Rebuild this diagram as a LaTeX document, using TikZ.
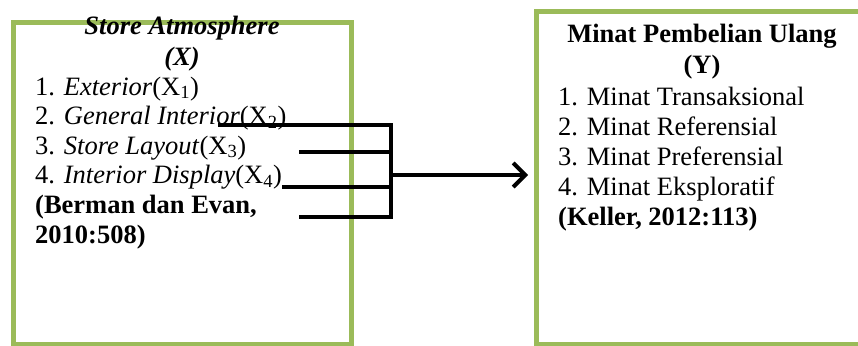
\documentclass[tikz,border=0pt]{standalone}
\usepackage{fontspec}
\setmainfont{Liberation Serif}
\usetikzlibrary{arrows.meta}
\usetikzlibrary{positioning}

\definecolor{hijau}{RGB}{155,187,89}

\begin{document}
\begin{tikzpicture}[%
x={(1pt,0pt)},
y={(0pt,-1pt)},
teks/.style={anchor=base west,inner sep=0pt,font=\fontsize{26.5}{30}\selectfont},
judul/.style={anchor=base,inner sep=0pt,font=\fontsize{26.5}{30}\selectfont\bfseries},
kotak/.style={draw=hijau,line width=5pt,rectangle,inner sep=0pt},
garis/.style={line width=4pt},
]

\useasboundingbox (0,0) rectangle (858,345);
\clip (0,0) rectangle (858,345);

%Kotak
\node[kotak,minimum width=338,minimum height=321](X) at (182.5,183.5){};
\node[kotak,minimum width=340,minimum height=332](Y) at (706,178){};

%Variabel X
\node[judul,font=\fontsize{26.5}{30}\selectfont\bfseries\itshape](Xa) at (182,35){Store Atmosphere};
\node[judul,font=\fontsize{26.5}{30}\selectfont\bfseries\itshape](Xb) at (182,66){(X)};
\node[teks](X1) at (35,95){1. \textit{Exterior}(X\textsubscript{1})};
\node[teks](X2) at (35,124.5){2. \textit{General Interior}(X\textsubscript{2})};
\node[teks](X3) at (35,154){3. \textit{Store Layout}(X\textsubscript{3})};
\node[teks](X4) at (35,183.5){4. \textit{Interior Display}(X\textsubscript{4})};
\node[teks,font=\fontsize{26.5}{30}\selectfont\bfseries](Xs1) at (35,213){(Berman dan Evan,};
\node[teks,font=\fontsize{26.5}{30}\selectfont\bfseries](Xs2) at (35,243){2010:508)};

%Variabel Y
\node[judul](Ya) at (702,43){Minat Pembelian Ulang};
\node[judul](Yb) at (702,74){(Y)};
\node[teks](Y1) at (558,105){1. Minat Transaksional};
\node[teks](Y2) at (558,135){2. Minat Referensial};
\node[teks](Y3) at (558,165){3. Minat Preferensial};
\node[teks](Y4) at (558,195){4. Minat Eksploratif};
\node[teks,font=\fontsize{26.5}{30}\selectfont\bfseries](Ys) at (558,225){(Keller, 2012:113)};

%Garis
\coordinate (g1) at (218,125);
\coordinate (g2) at (299,152);
\coordinate (g3) at (282,187);
\coordinate (g4) at (299,217);
\coordinate (sambung) at (391,175);

\draw[garis] (g1) -- (g1 -| sambung) -- (g4 -| sambung) -- (g4);
\draw[garis] (g2) -- (g2 -| sambung);
\draw[garis] (g3) -- (g3 -| sambung);
\draw[garis,-{Straight Barb[length=12pt,width=24pt]},shorten >=5.5pt] (sambung) -- (sambung -| Y.west);

\end{tikzpicture}
\end{document}
